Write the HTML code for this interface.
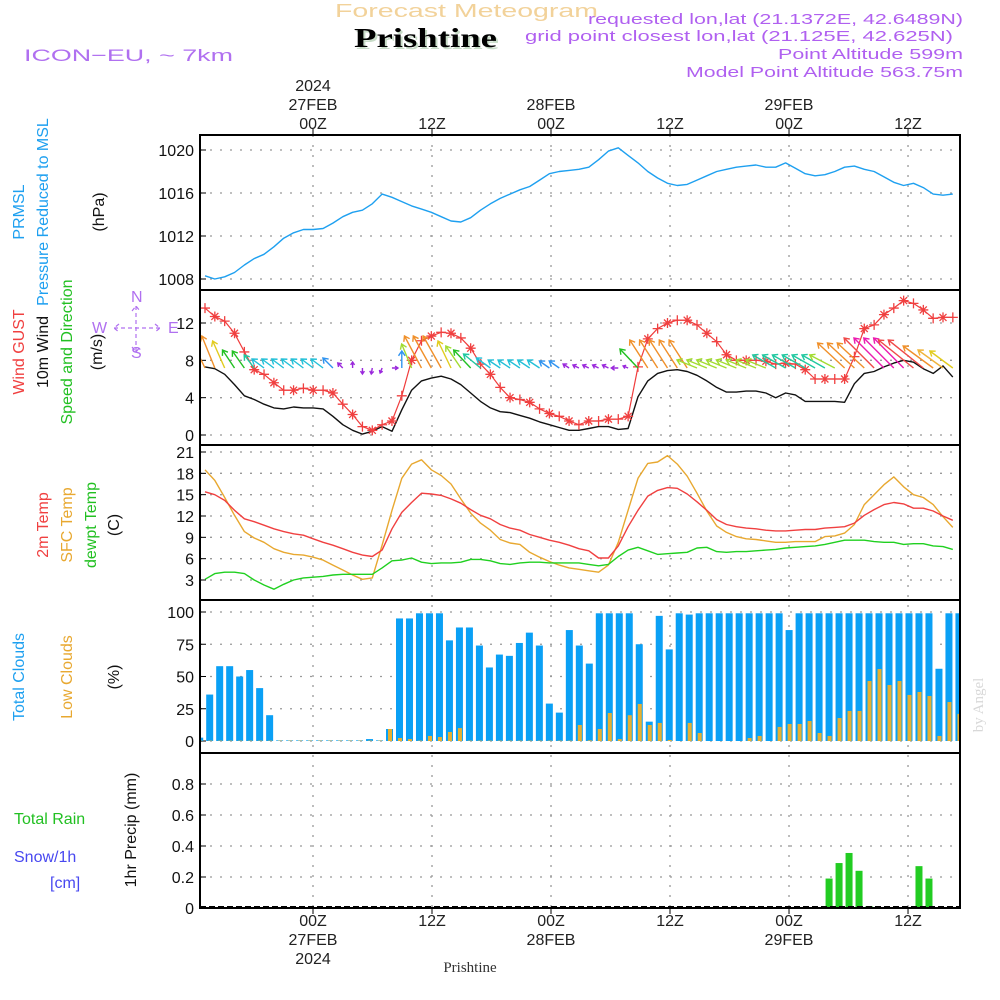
<!DOCTYPE html>
<html><head><meta charset="utf-8"><title>Forecast Meteogram Prishtine</title>
<style>
html,body{margin:0;padding:0;background:#fff;}
svg{display:block;font-family:"Liberation Sans",sans-serif;}
</style></head>
<body>
<svg id="chart" width="1000" height="1000" viewBox="0 0 1000 1000" xmlns="http://www.w3.org/2000/svg">
<rect x="0" y="0" width="1000" height="1000" fill="#fff"/>
<text x="335" y="17" fill="#f2d29a" font-size="18" textLength="263" lengthAdjust="spacingAndGlyphs">Forecast Meteogram</text>
<text x="356" y="49" fill="#c8dcc8" font-size="27" font-weight="bold" font-family="Liberation Serif, serif" textLength="143" lengthAdjust="spacingAndGlyphs">Prishtine</text>
<text x="354" y="47" fill="#000" font-size="27" font-weight="bold" font-family="Liberation Serif, serif" textLength="143" lengthAdjust="spacingAndGlyphs">Prishtine</text>
<text x="24" y="61" fill="#b070f0" font-size="17" textLength="209" lengthAdjust="spacingAndGlyphs">ICON−EU, ~ 7km</text>
<text x="588" y="24" fill="#b060f0" font-size="15" textLength="375" lengthAdjust="spacingAndGlyphs">requested lon,lat (21.1372E, 42.6489N)</text>
<text x="525" y="41" fill="#b060f0" font-size="15" textLength="428" lengthAdjust="spacingAndGlyphs">grid point closest lon,lat (21.125E, 42.625N)</text>
<text x="778" y="59" fill="#b060f0" font-size="15" textLength="185" lengthAdjust="spacingAndGlyphs">Point Altitude 599m</text>
<text x="686" y="77" fill="#b060f0" font-size="15" textLength="277" lengthAdjust="spacingAndGlyphs">Model Point Altitude 563.75m</text>
<text x="470" y="972" fill="#333" font-size="15" font-family="Liberation Serif, serif" text-anchor="middle">Prishtine</text>
<text transform="translate(983,705) rotate(-90)" fill="#d8d8d8" font-size="15" font-family="Liberation Serif, serif" text-anchor="middle">by Angel</text>
<g id="g"></g>
</svg>
<script>
// ===== data =====
const pressure = [1008.3,1008.0,1008.2,1008.6,1009.3,1009.9,1010.3,1011.0,1011.8,1012.3,1012.6,1012.6,1012.7,1013.2,1013.8,1014.2,1014.4,1015.0,1015.9,1015.6,1015.2,1014.8,1014.5,1014.2,1013.8,1013.4,1013.3,1013.7,1014.4,1015.0,1015.5,1015.9,1016.3,1016.6,1017.2,1017.8,1018.0,1018.1,1018.2,1018.4,1019.1,1019.9,1020.2,1019.5,1018.8,1018.0,1017.4,1016.9,1016.7,1016.8,1017.2,1017.6,1018.0,1018.2,1018.4,1018.5,1018.6,1018.4,1018.4,1018.8,1018.3,1017.8,1017.6,1017.7,1018.0,1018.4,1018.5,1018.2,1018.0,1017.5,1017.0,1016.7,1016.9,1016.5,1015.9,1015.8,1015.9];
const gust = [13.6,12.7,12.2,10.9,8.9,7.0,6.5,5.6,4.8,4.8,5.0,4.8,4.8,4.5,3.3,2.2,0.9,0.5,1.1,1.5,4.2,8.0,10.1,10.6,11.0,10.9,10.4,9.3,7.6,6.5,5.1,4.0,3.8,3.5,2.8,2.3,2.0,1.5,1.1,
 1.5,1.5,1.7,1.7,2.0,7.3,10.3,11.4,12.0,12.3,12.3,11.8,10.9,10.0,8.6,8.0,8.0,8.0,7.9,7.6,7.7,7.6,7.0,6.0,6.0,6.0,6.0,8.4,11.4,11.8,12.9,13.6,14.4,14.1,13.4,12.5,12.6,12.6];
const wind10m = [7.3,7.1,6.5,5.4,4.2,3.8,3.3,2.9,2.8,3.0,2.9,2.9,2.8,2.0,1.1,0.5,0.1,0.4,0.9,0.4,2.7,4.8,5.8,6.1,6.3,6.0,5.4,4.5,3.6,2.9,2.5,2.4,2.1,1.8,1.4,1.1,0.8,0.5,0.5,
 0.7,0.9,0.9,0.6,0.7,4.1,5.8,6.6,6.9,7.0,6.8,6.4,5.8,5.1,4.6,4.6,4.7,4.7,4.5,4.0,4.5,4.3,3.6,3.6,3.6,3.6,3.5,5.5,6.6,6.8,7.3,7.7,8.0,7.8,7.1,6.6,7.4,6.2];
const windU = [-12,-13,-12,-12,-12,-10,-12,-12,-12,-12,-12,-12,-12,-10,-5,0,0,-1,-2,6,0,-10,-17,-18,-18,-13,-15,-17,-17,-14,-12,-12,-12,-12,-12,-10,-10,-6,-6,-6,-6,-6,-7,-5,-18,-18,-18,-18,-18,-18,-20,-20,-20,-20,-20,-20,-20,-20,-23,-23,-23,-23,-23,-23,-25,-27,-27,-27,-30,-30,-30,-30,-35,-35,-30,-25,-23];
const windV = [25,32,27,18,17,13,9,9,9,9,9,9,9,10,5,6,-6,-6,-5,0,17,24,32,32,32,27,22,18,14,10,8,8,8,8,8,7,7,4,3,3,3,3,0,2,19,28,28,28,28,28,8,8,8,8,8,8,8,8,13,13,13,13,13,13,13,25,25,25,30,30,30,30,28,28,22,18,17];
const windClass = ["O","O","Y","G","G","T","C","C","C","C","C","C","C","B","P","P","P","P","P","P","B","YG","O","O","O","Y","YG","G","T","C","C","C","C","C","C","B","B","P","P","P","P","P","P","P","G","O","O","O","O","O","YG","YG","YG","YG","YG","YG","YG","YG","T","T","T","T","T","T","YG","O","O","O","R","M","M","M","R","R","O","YO","Y"];
const temp2m = [15.4,15.0,14.2,12.8,11.6,11.2,10.7,10.2,9.8,9.5,9.3,8.8,8.3,7.9,7.4,6.9,6.5,6.3,7.2,10.2,12.5,13.9,15.2,15.1,14.9,14.4,13.8,12.9,12.1,11.6,10.8,10.3,10.0,9.4,9.0,8.6,8.3,7.9,7.4,
 7.1,6.1,6.1,7.8,10.5,12.8,14.8,15.6,16.0,15.9,15.1,14.0,12.8,11.5,10.8,10.5,10.3,10.2,10.0,9.9,9.9,10.0,10.1,10.1,10.3,10.4,10.5,11.0,12.1,12.9,13.6,13.9,13.7,13.1,13.1,12.7,12.0,11.4];
const tempSfc = [18.5,17.0,14.6,12.1,9.8,8.9,8.3,7.4,6.9,6.6,6.5,6.2,5.8,5.1,4.4,3.7,3.1,3.3,7.9,12.8,17.3,19.3,19.9,18.5,17.7,16.5,14.4,12.4,11.0,10.0,8.7,8.2,8.0,6.9,6.2,5.6,5.1,4.7,4.5,
 4.3,4.1,5.1,8.3,12.8,17.3,19.4,19.6,20.5,19.3,17.6,15.2,12.7,10.6,9.7,9.1,8.8,8.7,8.5,8.3,8.3,8.4,8.4,8.4,9.1,9.2,9.6,10.8,13.6,15.0,16.4,17.5,16.1,15.0,14.6,13.6,11.9,10.4];
const dewpoint = [3.1,3.9,4.1,4.1,3.9,3.0,2.3,1.7,2.4,3.0,3.3,3.4,3.5,3.7,3.8,3.8,3.8,3.8,4.7,5.7,5.8,6.1,5.5,5.3,5.4,5.4,5.5,5.9,5.9,5.7,5.3,5.2,5.4,5.5,5.5,5.4,5.4,5.4,5.4,
 5.2,5.0,5.2,6.3,7.2,7.6,7.1,6.6,6.7,6.8,6.9,7.5,7.6,7.0,6.9,7.0,7.0,7.1,7.2,7.3,7.5,7.6,7.7,7.8,8.0,8.3,8.6,8.6,8.6,8.4,8.3,8.3,8.0,8.1,8.1,7.8,7.7,7.3];
const totalClouds = [2.6,36,58,58,50,55,41,20,0.5,0.5,0.5,0.5,0.5,0.5,0.5,0.5,0.5,1.5,0.5,9.3,95,95,99,99,99,78,88,88,74,57,67,66,76,84,74,29,22,86,74,
 60,99,99,99,99,75,15,97,71,99,98,99,99,99,99,99,99,99,99,99,86,99,99,99,99,99,99,99,99,99,99,99,99,99,99,56,99,99];
const lowClouds = [0.3,0.3,0.3,0.3,0.3,0.3,0.3,0.3,0.3,0.3,0.3,0.3,0.3,0.3,0.3,0.3,0.3,0.3,0.3,9.3,2.3,1.5,0.3,3.9,3.1,7,10,0.3,0.3,0.3,0.3,0.3,0.3,0.3,0.3,0.3,0.3,0.3,12.4,
 0.5,9.3,21.7,1.5,20,28.7,12.4,14,0.8,0,14,6.2,0,0,0,0,2.3,3.9,0,10.9,13.2,13.2,15.5,6.2,3.9,17.8,23.3,23.3,46.5,55.8,43.4,46.5,35.7,38,34.9,3.9,30.2,21];
const precip = [0,0,0,0,0,0,0,0,0,0,0,0,0,0,0,0,0,0,0,0,0,0,0,0,0,0,0,0,0,0,0,0,0,0,0,0,0,0,0,0,0,0,0,0,0,0,0,0,0,0,0,0,0,0,0,0,0,0,0,0,0,0,0,0.19,0.29,0.355,0.24,0.013,0,0,0,0,0.27,0.19,0,0,0];
const pressTicks = [1008,1012,1016,1020];
const windTicks = [0,4,8,12];
const tempTicks = [3,6,9,12,15,18,21];
const cloudTicks = [0,25,50,75,100];
const precipTicks = [0,0.2,0.4,0.6,0.8];
const timeHours = [0,12,24,36,48,60];
const timeTop = [["2024","27FEB","00Z"],["","","12Z"],["","28FEB","00Z"],["","","12Z"],["","29FEB","00Z"],["","","12Z"]];
const timeBottom = [["00Z","27FEB","2024"],["12Z","",""],["00Z","28FEB",""],["12Z","",""],["00Z","29FEB",""],["12Z","",""]];

// ===== axes =====
const X0=200, X1=960;
const lineX = i => 205 + i*9.84;
const barX = i => 199.7 + i*9.99;
const timeX = h => 313 + h*9.917;
function lin(d0,d1,r0,r1){return v => r0 + (v-d0)*(r1-r0)/(d1-d0);}
const yP = lin(1008,1020,279,150);
const yW = lin(0,12,435,323);
const yT = lin(3,21,580,452);
const yC = lin(0,100,741,612);
const yR = lin(0,0.8,908,784);
const panels = [[135,290],[290,445],[445,600],[600,753],[753,908]];
const windColors = {O:"#f0902a",Y:"#e2cc1e",G:"#22c022",T:"#20c8a0",C:"#22c0d8",B:"#3094f0",P:"#9a28dc",YG:"#a2dc30",M:"#ec1cb0",R:"#f04848",YO:"#f0b43a"};

const NS="http://www.w3.org/2000/svg";
const G=document.getElementById('g');
function mk(tag,attrs,parent){const e=document.createElementNS(NS,tag);for(const k in attrs)e.setAttribute(k,attrs[k]);(parent||G).appendChild(e);return e;}

const defs=mk('defs',{});
const cp=mk('clipPath',{id:'plotclip'},defs);
mk('rect',{x:X0,y:135,width:X1-X0,height:773},cp);

timeHours.forEach((h,k)=>{
  const x=timeX(h);
  const gl=mk('line',{x1:x,x2:x,y1:135,y2:908,stroke:'#999','stroke-width':1.3,'stroke-dasharray':'2,8'});
  
  
  const tk=mk('line',{x1:x,x2:x,y1:129,y2:135,stroke:'#000','stroke-width':1});
  
  
  const tk2=mk('line',{x1:x,x2:x,y1:908,y2:914,stroke:'#000','stroke-width':1});
  
  
  timeTop[k].forEach((s,j)=>{ if(!s)return;
    const t=mk('text',{x:x,y:91+j*19,'text-anchor':'middle','font-size':16,fill:'#222'});
    t.textContent=s;
    
    
  });
  timeBottom[k].forEach((s,j)=>{ if(!s)return;
    const t=mk('text',{x:x,y:926+j*19,'text-anchor':'middle','font-size':16,fill:'#222'});
    t.textContent=s;
    
    
  });
});

function hgrid(ticks,yf,fmt,name){
  ticks.forEach(v=>{
    const y=yf(v);
    const l=mk('line',{x1:X0,x2:X1,y1:y,y2:y,stroke:'#999','stroke-width':1.3,'stroke-dasharray':'2,8'});
    
    
    const tk=mk('line',{x1:X0,x2:X0+6,y1:y,y2:y,stroke:'#000','stroke-width':1});
    
    
    const t=mk('text',{x:194,y:y+6,'text-anchor':'end','font-size':16,fill:'#111'});
    t.textContent=fmt(v);
    
    
  });
}
hgrid(pressTicks,yP,v=>String(v),'pressure');
hgrid(windTicks,yW,v=>String(v),'wind');
hgrid(tempTicks,yT,v=>String(v),'temp');
hgrid(cloudTicks,yC,v=>String(v),'cloud');
hgrid(precipTicks,yR,v=>v===0?'0':v.toFixed(1),'precip');

const plot=mk('g',{'clip-path':'url(#plotclip)'});



function pathOf(arr,yf){return arr.map((v,i)=>(i?'L':'M')+lineX(i).toFixed(1)+','+yf(v).toFixed(1)).join(' ');}
function line(arr,yf,color,name,w){
  const p=mk('path',{d:pathOf(arr,yf),fill:'none',stroke:color,'stroke-width':w||1.4,'stroke-linejoin':'round'},plot);
  
  
}
line(pressure,yP,'#1ea0f0','pressure-line');
line(wind10m,yW,'#111','wind-10m-line');
line(gust,yW,'#f03c3c','wind-gust-line',1.2);
gust.forEach((v,i)=>{
  const x=lineX(i),y=yW(v);
  const m=mk('path',{d:`M${x-5},${y}H${x+5}M${x},${y-5}V${y+5}`+(i%2?`M${x-3.5},${y-3.5}L${x+3.5},${y+3.5}M${x-3.5},${y+3.5}L${x+3.5},${y-3.5}`:''),stroke:'#f04040','stroke-width':1.3,fill:'none'},plot);
  
  
});
windU.forEach((u,i)=>{
  const x=lineX(i), y=368, hx=x+u, hy=y-windV[i];
  const c=windColors[windClass[i]];
  const L=Math.hypot(u,windV[i])||1;
  const ux=u/L, uy=-windV[i]/L;
  const hs=Math.min(6,L*0.6);
  const a1x=hx-hs*(ux*0.8-uy*0.55), a1y=hy-hs*(uy*0.8+ux*0.55);
  const a2x=hx-hs*(ux*0.8+uy*0.55), a2y=hy-hs*(uy*0.8-ux*0.55);
  const a=mk('path',{d:`M${x},${y}L${hx},${hy}M${a1x},${a1y}L${hx},${hy}L${a2x},${a2y}`,stroke:c,'stroke-width':1.4,fill:'none'},plot);
  
  
});
line(tempSfc,yT,'#e8a830','sfc-temp-line');
line(temp2m,yT,'#f04040','temp-2m-line');
line(dewpoint,yT,'#20d020','dewpoint-line');
totalClouds.forEach((v,i)=>{
  const x=barX(i),y=yC(v);
  const r=mk('rect',{x:x-3.5,y:y,width:7,height:yC(0)-y,fill:'#0aa0f5'},plot);
  
  
});
lowClouds.forEach((v,i)=>{
  const x=barX(i),y=yC(v);
  const r=mk('rect',{x:x-1.5,y:y,width:4,height:yC(0)-y,fill:'#e8b030'},plot);
  
  
});
precip.forEach((v,i)=>{
  if(v<=0)return;
  const x=barX(i),y=yR(v);
  const r=mk('rect',{x:x-3.5,y:y,width:7,height:yR(0)-y,fill:'#22cc22'},plot);
  
  
});
const zl=mk('line',{x1:X0,x2:X1,y1:907,y2:907,stroke:'#000','stroke-width':2,'stroke-dasharray':'6,3'},plot);



panels.forEach(p=>{
  const r=mk('rect',{x:X0,y:p[0],width:X1-X0,height:p[1]-p[0],fill:'none',stroke:'#000','stroke-width':2});
  
  
});

function rlab(x,y,s,c,name){
  const t=mk('text',{transform:`translate(${x},${y}) rotate(-90)`,'text-anchor':'middle','font-size':16,fill:c});
  t.textContent=s;
  
  
}
rlab(24,212,'PRMSL','#1ea0f0','pressure-title-1');
rlab(48,212,'Pressure Reduced to MSL','#1ea0f0','pressure-title-2');
rlab(104,212,'(hPa)','#111','pressure-unit');
rlab(24,352,'Wind GUST','#f04040','gust-title');
rlab(48,352,'10m Wind','#111','wind-title');
rlab(72,352,'Speed and Direction','#22c022','wind-dir-title');
rlab(102,352,'(m/s)','#111','wind-unit');
rlab(48,525,'2m Temp','#f04040','temp-2m-title');
rlab(72,525,'SFC Temp','#e8a830','sfc-temp-title');
rlab(96,525,'dewpt Temp','#22c022','dewpoint-title');
rlab(119,525,'(C)','#111','temp-unit');
rlab(24,677,'Total Clouds','#1ea0f0','total-cloud-title');
rlab(72,677,'Low Clouds','#e8a830','low-cloud-title');
rlab(119,677,'(%)','#111','cloud-unit');
rlab(136,830,'1hr Precip (mm)','#111','precip-title');
function hlab(x,y,s,c,name){
  const t=mk('text',{x:x,y:y,'font-size':16,fill:c});
  t.textContent=s;
  
  
}
hlab(14,824,'Total  Rain','#22c022','rain-legend');
hlab(14,862,'Snow/1h','#4848f0','snow-legend');
hlab(50,888,'[cm]','#4848f0','snow-unit');
const cc='#b070f0';
hlab(131,302,'N',cc,'compass-n');
hlab(131,358,'S',cc,'compass-s');
hlab(92,333,'W',cc,'compass-w');
hlab(168,333,'E',cc,'compass-e');
const comp=mk('path',{d:'M114,328H160M136,306V352M119,324L114,328L119,332M155,324L160,328L155,332M132,311L136,306L140,311M132,347L136,352L140,347',stroke:cc,'stroke-width':1.2,fill:'none','stroke-dasharray':'4,3'});


</script>
</body></html>
